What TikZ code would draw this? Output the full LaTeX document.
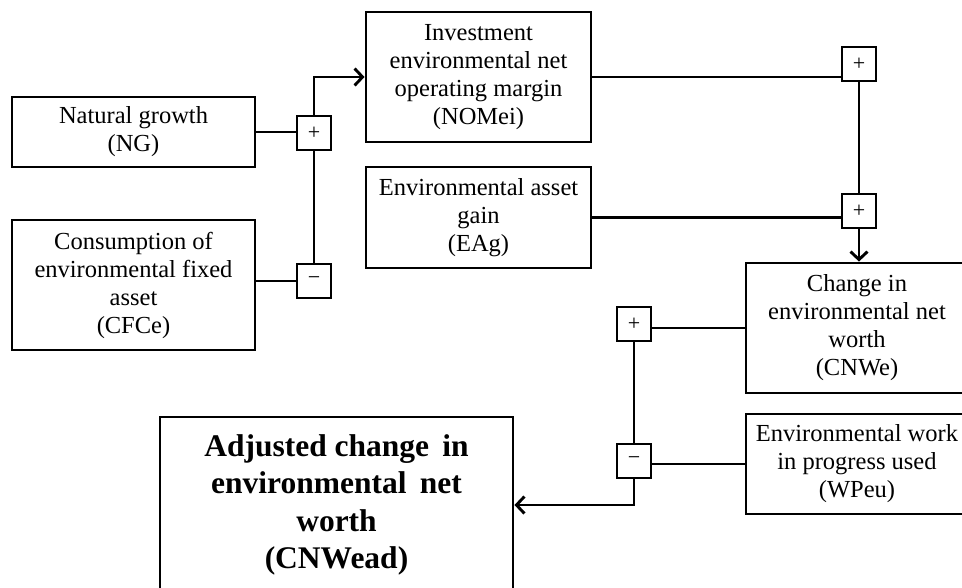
\documentclass[tikz,border=0pt]{standalone}
\usepackage{fontspec}
\setmainfont{Liberation Serif}
\usetikzlibrary{arrows.meta,positioning,calc}

\tikzset{
  block/.style={draw,line width=2.9pt,inner sep=0pt,align=center,
    font=\fontsize{24.5}{28}\selectfont},
  bigblock/.style={block,font=\fontsize{31.5}{37.5}\selectfont\bfseries},
  sign/.style={draw,line width=2.7pt,minimum size=34pt,inner sep=0pt,
    font=\fontsize{22}{22}\selectfont},
  link/.style={line width=2.9pt},
  flow/.style={link,-{Straight Barb[length=8pt,width=17pt]}}
}

\begin{document}
\begin{tikzpicture}[x=1pt,y=-1pt]
\useasboundingbox (0,0) rectangle (962,587);
\clip (0,0) rectangle (962,587);

% Inputs on the left
\node[block,minimum width=243pt,minimum height=70pt] (ng) at (133.5,132) {Natural growth\\(NG)};
\node[block,minimum width=243pt,minimum height=130pt] (cfce) at (133.5,285) {Consumption of\\environmental fixed\\asset\\(CFCe)};

% Middle column
\node[block,minimum width=225pt,minimum height=130pt] (nomei) at (478.5,77) {Investment\\environmental net\\operating margin\\(NOMei)};
\node[block,minimum width=225pt,minimum height=101pt] (eag) at (478.5,217.5) {Environmental asset\\gain\\(EAg)};

% Right column
\node[block,minimum width=222pt,minimum height=130pt] (cnwe) at (857,328) {Change in\\environmental net\\worth\\(CNWe)};
\node[block,minimum width=222pt,minimum height=100pt] (wpeu) at (857,464) {Environmental work\\in progress used\\(WPeu)};

% Result (runs past the bottom edge)
\node[bigblock,minimum width=353pt,minimum height=176pt] (cnwead) at (336.5,505) {Adjusted change\ \,in\\environmental\ \,net\\worth\\(CNWead)};

% Signs
\node[sign] (p1) at (314,133) {+};
\node[sign] (m1) at (314,281) {−};
\node[sign] (p2) at (859,64) {+};
\node[sign] (p3) at (859,211) {+};
\node[sign] (p4) at (634,324) {+};
\node[sign] (m2) at (634,461) {−};

% Connectors
\draw[link] (ng.east) -- (ng.east -| p1.west);
\draw[link] (cfce.east |- m1) -- (m1.west);
\draw[link] (m1.north) -- (p1.south);
\draw[flow] (p1.north) |- (nomei.west);

\draw[link] (nomei.east) -- (nomei.east -| p2.west);
\draw[link] (eag.east) -- (eag.east -| p3.west);
\draw[link] (p2.south) -- (p3.north);
\draw[flow] (p3.south) -- (p3.south |- cnwe.north);

\draw[link] (cnwe.west) -- (cnwe.west -| p4.east);
\draw[link] (wpeu.west) -- (wpeu.west -| m2.east);
\draw[link] (p4.south) -- (m2.north);
\draw[flow] (m2.south) |- (cnwead.east);
\end{tikzpicture}
\end{document}
